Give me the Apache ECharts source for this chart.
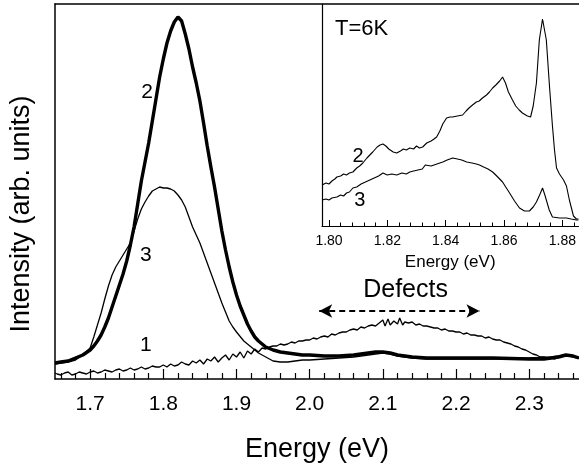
<!DOCTYPE html>
<html>
<head>
<meta charset="utf-8">
<script src="https://cdn.jsdelivr.net/npm/echarts@6/dist/echarts.min.js"></script>
<style>
html,body{margin:0;padding:0;background:#fff;}
#chart{width:579px;height:469px;}
</style>
</head>
<body>
<div id="chart"></div>
<script>
// ---- main panel data: [energy (eV), intensity (arb.)] ----
const mainMajorTicks = [1.7, 1.8, 1.9, 2.0, 2.1, 2.2, 2.3];
const mainMinorTicks = [1.66, 1.68, 1.72, 1.74, 1.76, 1.78, 1.82, 1.84, 1.86, 1.88, 1.92, 1.94, 1.96, 1.98,
  2.02, 2.04, 2.06, 2.08, 2.12, 2.14, 2.16, 2.18, 2.22, 2.24, 2.26, 2.28, 2.32, 2.34, 2.36];

const curve1 = [[1.652,6],[1.655,5],[1.660,4],[1.665,6],[1.670,7],[1.675,4],[1.680,5],[1.685,7],[1.690,6],[1.695,5],
  [1.700,7],[1.705,8],[1.710,6],[1.715,7],[1.720,9],[1.725,8],[1.730,7],[1.735,9],[1.740,10],[1.745,8],
  [1.750,9],[1.755,11],[1.760,9],[1.765,10],[1.770,12],[1.775,10],[1.780,11],[1.785,13],[1.790,12],[1.795,12],
  [1.800,14],[1.805,12],[1.810,15],[1.815,13],[1.820,14],[1.825,17],[1.830,15],[1.835,14],[1.840,18],[1.845,16],
  [1.850,19],[1.855,15],[1.860,20],[1.865,18],[1.870,22],[1.875,17],[1.880,21],[1.885,24],[1.890,19],[1.895,25],
  [1.900,22],[1.905,27],[1.910,21],[1.915,28],[1.920,25],[1.925,30],[1.930,27],[1.935,31],[1.940,30],[1.945,32],
  [1.950,33],[1.955,33],[1.960,35],[1.965,34],[1.970,35],[1.975,37],[1.980,36],[1.985,38],[1.990,38],[1.995,39],
  [2.000,39],[2.005,41],[2.010,40],[2.015,42],[2.020,43],[2.025,42],[2.030,45],[2.035,44],[2.040,46],[2.045,47],
  [2.050,47],[2.055,49],[2.060,50],[2.065,49],[2.070,52],[2.075,51],[2.080,53],[2.085,54],[2.090,53],[2.095,56],
  [2.100,59],[2.103,53],[2.107,60],[2.110,54],[2.115,58],[2.120,55],[2.123,61],[2.127,54],[2.130,57],[2.135,56],
  [2.140,57],[2.145,54],[2.150,55],[2.155,53],[2.160,53],[2.165,52],[2.170,51],[2.175,51],[2.180,49],[2.185,50],
  [2.190,48],[2.195,48],[2.200,47],[2.205,47],[2.210,45],[2.215,46],[2.220,44],[2.225,44],[2.230,43],[2.235,43],
  [2.240,41],[2.245,42],[2.250,40],[2.255,39],[2.260,39],[2.265,37],[2.270,36],[2.275,35],[2.280,33],[2.285,32],
  [2.290,30],[2.295,29],[2.300,27],[2.305,25],[2.310,24],[2.315,22],[2.320,22],[2.325,21],[2.330,21],[2.335,20],
  [2.340,22],[2.345,23],[2.350,24],[2.355,23],[2.360,22],[2.365,21],[2.368,21]];

const curve2 = [[1.652,16],[1.66,17],[1.67,18],[1.68,21],[1.69,24],[1.70,29],[1.705,33],[1.71,38],[1.715,44],[1.72,52],
  [1.725,61],[1.73,72],[1.735,83],[1.74,94],[1.745,105],[1.75,118],[1.755,134],[1.76,152],[1.765,175],[1.77,198],
  [1.775,217],[1.78,236],[1.785,258],[1.79,280],[1.795,302],[1.80,320],[1.805,336],[1.81,348],[1.815,357],[1.82,362],
  [1.825,358],[1.83,345],[1.835,330],[1.84,312],[1.845,296],[1.85,278],[1.855,256],[1.86,233],[1.865,212],[1.87,192],
  [1.875,170],[1.88,148],[1.885,129],[1.89,112],[1.895,97],[1.90,84],[1.905,73],[1.91,64],[1.915,55],[1.92,48],
  [1.925,42],[1.93,38],[1.94,32],[1.95,29],[1.96,27],[1.97,26],[1.98,25],[1.99,24],[2.00,24],[2.02,23],
  [2.04,23],[2.06,24],[2.08,26],[2.09,27],[2.10,27],[2.11,26],[2.12,24],[2.14,22],[2.16,21],[2.20,21],
  [2.25,21],[2.30,20],[2.32,20],[2.33,21],[2.34,22],[2.35,24],[2.36,23],[2.368,21]];

const curve3 = [[1.652,15],[1.66,16],[1.67,17],[1.68,19],[1.69,24],[1.70,31],[1.705,42],[1.71,54],[1.715,66],[1.72,80],
  [1.725,93],[1.73,104],[1.735,112],[1.74,118],[1.745,124],[1.75,130],[1.755,136],[1.76,148],[1.765,160],[1.77,170],
  [1.775,177],[1.78,183],[1.785,188],[1.79,190],[1.795,192],[1.80,191],[1.805,191],[1.81,190],[1.815,188],[1.82,184],
  [1.825,179],[1.83,172],[1.835,162],[1.84,152],[1.845,144],[1.85,136],[1.855,126],[1.86,116],[1.865,106],[1.87,96],
  [1.875,86],[1.88,76],[1.885,67],[1.89,58],[1.895,52],[1.90,47],[1.91,38],[1.92,32],[1.93,26],[1.94,22],
  [1.95,18],[1.96,17],[1.97,17],[1.98,18],[1.99,19],[2.00,19],[2.02,20],[2.04,21],[2.06,22],[2.08,24],
  [2.09,25],[2.10,26],[2.11,25],[2.12,23],[2.14,21],[2.16,20],[2.20,20],[2.25,20],[2.30,21],[2.33,22],
  [2.35,24],[2.36,23],[2.368,21]];

const mainCurveLabels = [[1.778,287,'2'],[1.776,124,'3'],[1.776,34,'1']];
const defectsLabel = [[2.131,89,'Defects']];
const defectsArrow = [[2.013,68],[2.232,68]];

// ---- inset (T = 6 K) data ----
const insetMajorTicks = [1.80, 1.82, 1.84, 1.86, 1.88];
const insetMinorTicks = [1.804, 1.808, 1.812, 1.816, 1.824, 1.828, 1.832, 1.836, 1.844, 1.848, 1.852, 1.856,
  1.864, 1.868, 1.872, 1.876, 1.884];

const inset2 = [[1.7976,41],[1.7990,43],[1.8000,42],[1.8010,45],[1.8020,47],[1.8027,49],[1.8040,50],[1.8050,52],[1.8060,51],[1.8070,53],
  [1.8082,54],[1.8095,58],[1.8105,60],[1.8116,63],[1.8130,68],[1.8140,71],[1.8150,74],[1.8165,79],[1.8175,81],[1.8185,82],
  [1.8195,80],[1.8205,77],[1.8220,74],[1.8232,73],[1.8245,75],[1.8255,77],[1.8265,76],[1.8277,78],[1.8290,77],[1.8300,80],
  [1.8310,78],[1.8321,79],[1.8335,83],[1.8350,85],[1.8360,87],[1.8369,89],[1.8380,95],[1.8390,102],[1.8403,108],[1.8415,109],
  [1.8424,109],[1.8440,110],[1.8458,111],[1.8470,115],[1.8480,118],[1.8492,121],[1.8505,124],[1.8515,125],[1.8526,128],[1.8540,131],
  [1.8550,134],[1.8561,138],[1.8572,141],[1.8585,145],[1.8595,149],[1.8605,143],[1.8615,134],[1.8629,126],[1.8640,120],[1.8652,116],
  [1.8663,113],[1.8680,110],[1.8691,109],[1.8700,120],[1.8711,143],[1.8721,186],[1.8732,207],[1.8745,186],[1.8756,139],[1.8766,100],
  [1.8773,76],[1.8780,58],[1.8790,52],[1.8804,46],[1.8814,40],[1.8824,26],[1.8838,10],[1.8848,7],[1.8855,7]];

const inset3 = [[1.7976,26],[1.7990,27],[1.8000,26],[1.8010,28],[1.8027,29],[1.8040,31],[1.8050,30],[1.8060,33],[1.8070,34],[1.8082,38],
  [1.8095,39],[1.8110,42],[1.8125,44],[1.8140,46],[1.8155,48],[1.8170,50],[1.8185,53],[1.8200,51],[1.8215,52],[1.8232,51],
  [1.8250,53],[1.8265,52],[1.8277,54],[1.8290,55],[1.8305,56],[1.8320,57],[1.8330,61],[1.8335,59],[1.8350,60],[1.8370,62],
  [1.8390,64],[1.8405,66],[1.8424,68],[1.8440,67],[1.8455,66],[1.8472,64],[1.8490,63],[1.8505,62],[1.8516,61],[1.8530,59],
  [1.8545,57],[1.8561,54],[1.8575,50],[1.8595,44],[1.8608,38],[1.8619,33],[1.8636,25],[1.8653,18],[1.8670,15],[1.8687,15],
  [1.8700,19],[1.8711,24],[1.8722,31],[1.8732,38],[1.8740,31],[1.8745,26],[1.8755,16],[1.8766,9],[1.8790,8],[1.8814,8],
  [1.8830,7],[1.8848,6],[1.8855,6]];

const insetCurveLabels = [[1.8100,70,'2'],[1.8106,26,'3']];
const insetTitle = 'T=6K';

const FONT = 'Liberation Sans, Arial, Helvetica, sans-serif';
const chart = echarts.init(document.getElementById('chart'), null, {renderer: 'canvas'});

const MAIN_MIN = 1.652, MAIN_MAX = 2.368;
const INS_MIN = 1.7976, INS_MAX = 1.8855;
const black = '#000';

function lineSeries(data, xi, yi, w, z) {
  return {type: 'line', data: data, xAxisIndex: xi, yAxisIndex: yi, showSymbol: false, symbol: 'none',
    lineStyle: {color: black, width: w}, z: z || 3, silent: true};
}
function labelSeries(data, xi, yi, size) {
  return {type: 'scatter', data: data, xAxisIndex: xi, yAxisIndex: yi, symbol: 'circle', symbolSize: 2, silent: true, z: 5,
    itemStyle: {color: '#fff', opacity: 0},
    label: {show: true, position: 'inside', formatter: p => p.value[2], fontSize: size, color: black,
      fontFamily: FONT, textBorderWidth: 0, opacity: 1}};
}

const option = {
  animation: false,
  backgroundColor: '#fff',
  textStyle: {fontFamily: FONT},
  title: {text: insetTitle, left: 330, top: 13, textStyle: {fontSize: 22, fontWeight: 'normal', color: black, fontFamily: FONT}},
  grid: [
    {left: 55, right: 0, top: 4, bottom: 90, show: false},
    {left: 322, right: 0, top: 4, bottom: 243, show: false}
  ],
  xAxis: [
    {gridIndex: 0, type: 'value', position: 'bottom', min: MAIN_MIN, max: MAIN_MAX,
      axisLine: {show: true, lineStyle: {color: black, width: 1.5}},
      axisTick: {show: true, inside: true, length: 10, customValues: mainMajorTicks, lineStyle: {color: black, width: 1.2}},
      axisLabel: {show: true, customValues: mainMajorTicks, formatter: v => v.toFixed(1), fontSize: 21, margin: 15, color: black, fontFamily: FONT},
      splitLine: {show: false},
      name: 'Energy (eV)', nameLocation: 'middle', nameGap: 57,
      nameTextStyle: {fontSize: 27, color: black, fontFamily: FONT}},
    {gridIndex: 0, type: 'value', position: 'bottom', min: MAIN_MIN, max: MAIN_MAX,
      axisLine: {show: false},
      axisTick: {show: true, inside: true, length: 6, customValues: mainMinorTicks, lineStyle: {color: black, width: 1.2}},
      axisLabel: {show: false}, splitLine: {show: false}},
    {gridIndex: 0, type: 'value', position: 'top', min: MAIN_MIN, max: MAIN_MAX,
      axisLine: {show: true, lineStyle: {color: black, width: 1.5}},
      axisTick: {show: false}, axisLabel: {show: false}, splitLine: {show: false}},
    {gridIndex: 1, type: 'value', position: 'bottom', min: INS_MIN, max: INS_MAX,
      axisLine: {show: true, lineStyle: {color: black, width: 1.2}},
      axisTick: {show: true, inside: true, length: 6, customValues: insetMajorTicks, lineStyle: {color: black, width: 1}},
      axisLabel: {show: true, customValues: insetMajorTicks, formatter: v => v.toFixed(2), fontSize: 14, margin: 8, color: black, fontFamily: FONT},
      splitLine: {show: false},
      name: 'Energy (eV)', nameLocation: 'middle', nameGap: 28,
      nameTextStyle: {fontSize: 17, color: black, fontFamily: FONT}},
    {gridIndex: 1, type: 'value', position: 'bottom', min: INS_MIN, max: INS_MAX,
      axisLine: {show: false},
      axisTick: {show: true, inside: true, length: 3.5, customValues: insetMinorTicks, lineStyle: {color: black, width: 1}},
      axisLabel: {show: false}, splitLine: {show: false}}
  ],
  yAxis: [
    {gridIndex: 0, type: 'value', min: 0, max: 375,
      axisLine: {show: true, lineStyle: {color: black, width: 1.5}},
      axisTick: {show: false}, axisLabel: {show: false}, splitLine: {show: false}},
    {gridIndex: 1, type: 'value', min: 0, max: 222,
      axisLine: {show: true, lineStyle: {color: black, width: 1.2}},
      axisTick: {show: false}, axisLabel: {show: false}, splitLine: {show: false}}
  ],
  graphic: [
    {type: 'text', x: 22, y: 214, rotation: Math.PI / 2,
      style: {text: 'Intensity (arb. units)', fontSize: 27, fontFamily: FONT, fill: black, align: 'center', verticalAlign: 'middle'}}
  ],
  series: [
    Object.assign(lineSeries(curve1, 0, 0, 1.3, 3), {
      markLine: {silent: true, symbol: ['arrow', 'arrow'], symbolSize: [10, 13],
        lineStyle: {color: black, width: 2, type: [6, 4]}, label: {show: false},
        data: [[{coord: defectsArrow[0]}, {coord: defectsArrow[1]}]]}
    }),
    lineSeries(curve3, 0, 0, 1.3, 3),
    lineSeries(curve2, 0, 0, 3.4, 4),
    labelSeries(mainCurveLabels, 0, 0, 21),
    labelSeries(defectsLabel, 0, 0, 25),
    lineSeries(inset2, 3, 1, 1.1, 3),
    lineSeries(inset3, 3, 1, 1.1, 3),
    labelSeries(insetCurveLabels, 3, 1, 20)
  ]
};
chart.setOption(option);
</script>
</body>
</html>
